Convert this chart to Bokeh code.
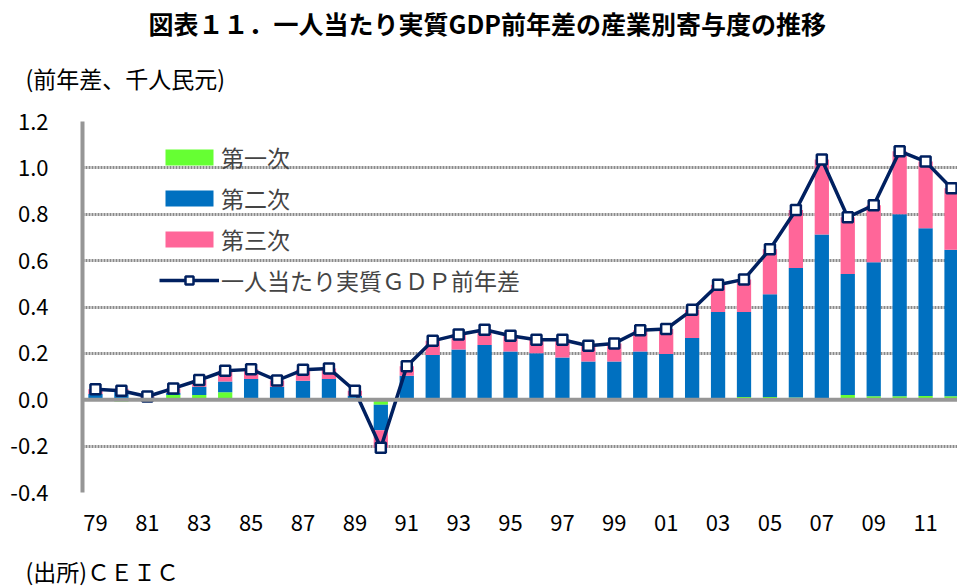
import numpy as np
from bokeh.plotting import figure
from bokeh.models import (ColumnDataSource, Legend, LegendItem, Title, Span,
                          FixedTicker)
from bokeh.embed import file_html
from bokeh.resources import INLINE

# ---------------- data ----------------
years = list(range(1979, 2013))
primary = [0.005, -0.008, 0.005, 0.020, 0.020, 0.032, 0.003, 0.002, 0.003, 0.003,
           0.003, -0.022, 0.003, 0.005, 0.005, 0.004, 0.005, 0.005, 0.004, 0.004,
           0.003, 0.003, 0.003, 0.005, 0.005, 0.012, 0.012, 0.010, 0.005, 0.020,
           0.015, 0.015, 0.016, 0.015]
secondary = [0.020, 0.040, 0.005, 0.010, 0.036, 0.047, 0.086, 0.054, 0.079, 0.086,
             0.014, -0.110, 0.100, 0.188, 0.212, 0.232, 0.203, 0.196, 0.178, 0.161,
             0.162, 0.205, 0.194, 0.261, 0.373, 0.366, 0.443, 0.558, 0.708, 0.522,
             0.578, 0.785, 0.724, 0.632]
tertiary = [0.020, 0.007, 0.004, 0.019, 0.029, 0.046, 0.042, 0.027, 0.047, 0.046,
            0.022, -0.075, 0.041, 0.061, 0.064, 0.066, 0.068, 0.058, 0.077, 0.068,
            0.078, 0.092, 0.108, 0.122, 0.118, 0.141, 0.194, 0.250, 0.323, 0.245,
            0.246, 0.272, 0.287, 0.265]
total = [0.045, 0.039, 0.014, 0.049, 0.085, 0.125, 0.131, 0.083, 0.129, 0.135,
         0.039, -0.207, 0.144, 0.254, 0.281, 0.302, 0.276, 0.259, 0.259, 0.233,
         0.243, 0.300, 0.305, 0.388, 0.496, 0.519, 0.649, 0.818, 1.036, 0.787,
         0.839, 1.072, 1.027, 0.912]
tick_years = list(range(1979, 2012, 2))
tick_labels = ["79", "81", "83", "85", "87", "89", "91", "93", "95", "97", "99",
               "01", "03", "05", "07", "09", "11"]
series_names = ["第一次", "第二次", "第三次"]
line_name = "一人当たり実質ＧＤＰ前年差"
title_text = "図表１１．一人当たり実質GDP前年差の産業別寄与度の推移"
unit_text = "(前年差、千人民元)"
source_text = "(出所)ＣＥＩＣ"
colors = ["#66FF33", "#0070C0", "#FF6699"]
navy = "#002060"
FONT = "Noto Sans CJK JP"

p = figure(width=957, height=587, output_backend="svg", toolbar_location=None,
           title=None,
           x_range=(1978.5, 2012.23), y_range=(-0.4, 1.2),
           min_border_left=82, min_border_right=0, min_border_top=121,
           min_border_bottom=95)
p.outline_line_color = None
p.background_fill_color = "white"
p.border_fill_color = "white"

# grid
p.xgrid.grid_line_color = None
p.ygrid.ticker = FixedTicker(ticks=[-0.4, -0.2, 0.2, 0.4, 0.6, 0.8, 1.0, 1.2])
p.ygrid.grid_line_color = "#8A8A8A"
p.ygrid.grid_line_width = 3
p.ygrid.grid_line_dash = "2 1"

# axes
p.yaxis.ticker = FixedTicker(ticks=[-0.4, -0.2, 0.0, 0.2, 0.4, 0.6, 0.8, 1.0, 1.2])
p.yaxis.major_label_overrides = {-0.4: "-0.4", -0.2: "-0.2", 0.0: "0.0", 0.2: "0.2",
                                 0.4: "0.4", 0.6: "0.6", 0.8: "0.8", 1.0: "1.0",
                                 1.2: "1.2"}
p.yaxis.axis_line_color = "#969696"
p.yaxis.axis_line_width = 4
p.yaxis.major_tick_line_color = None
p.yaxis.minor_tick_line_color = None
p.yaxis.major_label_standoff = 28
p.yaxis.major_label_text_font = FONT
p.yaxis.major_label_text_font_size = "22px"
p.yaxis.major_label_text_color = "black"

p.xaxis.ticker = FixedTicker(ticks=tick_years)
p.xaxis.major_label_overrides = {y: l for y, l in zip(tick_years, tick_labels)}
p.xaxis.axis_line_color = None
p.xaxis.major_tick_line_color = None
p.xaxis.minor_tick_line_color = None
p.xaxis.major_label_standoff = 16
p.xaxis.major_label_text_font = FONT
p.xaxis.major_label_text_font_size = "22px"
p.xaxis.major_label_text_color = "black"

# stacked bars (positive and negative stacked separately)
data = {"year": years}
pos_base = np.zeros(len(years))
neg_base = np.zeros(len(years))
for i, vals in enumerate([primary, secondary, tertiary]):
    v = np.array(vals)
    bottom = np.where(v >= 0, pos_base, neg_base)
    top = bottom + v
    data[f"b{i}"] = bottom
    data[f"t{i}"] = top
    pos_base = np.where(v >= 0, top, pos_base)
    neg_base = np.where(v < 0, top, neg_base)
data["total"] = total
src = ColumnDataSource(data)

bar_renderers = []
for i in range(3):
    r = p.vbar(x="year", bottom=f"b{i}", top=f"t{i}", width=0.55, source=src,
               fill_color=colors[i], line_color=None)
    bar_renderers.append(r)

zero = Span(location=0, dimension="width", line_color="#969696", line_width=4)
p.add_layout(zero)

ln = p.line(x="year", y="total", source=src, line_color=navy, line_width=3.5)
mk = p.scatter(x="year", y="total", source=src, marker="square", size=10,
               fill_color="white", line_color=navy, line_width=2.5)

legend = Legend(items=[LegendItem(label=series_names[i], renderers=[bar_renderers[i]])
                       for i in range(3)] +
                [LegendItem(label=line_name, renderers=[ln, mk])],
                location=(77, 195), orientation="vertical",
                glyph_width=60, glyph_height=20, label_height=16, spacing=7,
                padding=0, margin=0, label_standoff=2,
                label_text_font=FONT, label_text_font_size="23px",
                background_fill_alpha=0, border_line_color=None)
p.add_layout(legend)


def spacer(h):
    return Title(text=" ", text_font_size="1px", standoff=h)


# texts (titles outside the frame); first added = closest to the frame
p.add_layout(spacer(24), "above")
p.add_layout(Title(text=unit_text, align="left", offset=-57, standoff=0,
                   text_font=FONT, text_font_size="23px",
                   text_font_style="normal", text_color="black"), "above")
p.add_layout(spacer(15), "above")
p.add_layout(Title(text=title_text, align="left", offset=66, standoff=0,
                   text_font=FONT, text_font_size="25px",
                   text_font_style="bold", text_color="black"), "above")
p.add_layout(spacer(15), "below")
p.add_layout(Title(text=source_text, align="left", offset=-57, standoff=0,
                   text_font=FONT, text_font_size="23px",
                   text_font_style="normal", text_color="black"), "below")

open("out.html", "w").write(file_html(p, INLINE))
